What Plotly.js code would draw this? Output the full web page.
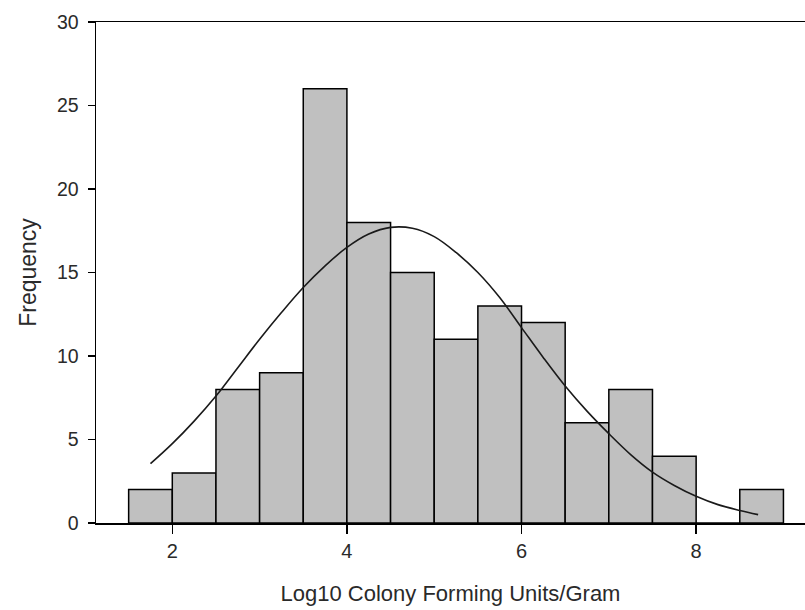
<!DOCTYPE html>
<html>
<head>
<meta charset="utf-8">
<script src="https://cdn.plot.ly/plotly-3.0.1.min.js"></script>
<style>
  html, body { margin: 0; padding: 0; background: #ffffff; }
  #chart { width: 805px; height: 610px; }
</style>
</head>
<body>
<div id="chart"></div>
<script>
// Histogram bins (centre of each 0.5-wide bin) and their counts
const binCenters = [1.75, 2.25, 2.75, 3.25, 3.75, 4.25, 4.75, 5.25, 5.75, 6.25, 6.75, 7.25, 7.75, 8.25, 8.75];
const counts     = [2, 3, 8, 9, 26, 18, 15, 11, 13, 12, 6, 8, 4, 0, 2];

// Fitted normal curve, sampled every 0.25 along the x axis
const curveX = [1.75, 2.0, 2.25, 2.5, 2.75, 3.0, 3.25, 3.5, 3.75, 4.0, 4.25, 4.5, 4.75, 5.0, 5.25, 5.5, 5.75, 6.0, 6.25, 6.5, 6.75, 7.0, 7.25, 7.5, 7.75, 8.0, 8.25, 8.5, 8.71];
const curveY = [3.55, 4.75, 6.1, 7.6, 9.3, 11.0, 12.6, 14.1, 15.4, 16.5, 17.3, 17.7, 17.65, 17.15, 16.2, 15.0, 13.5, 11.7, 9.9, 8.2, 6.7, 5.35, 4.1, 3.05, 2.25, 1.6, 1.1, 0.75, 0.5];

const yTicks = [0, 5, 10, 15, 20, 25, 30];
const xTicks = [2, 4, 6, 8];

const fontFamily = 'Arial, "Liberation Sans", sans-serif';
const textColor = '#2a2a2a';

const bars = {
  type: 'bar',
  x: binCenters,
  y: counts,
  width: 0.5,
  marker: { color: '#c0c0c0', line: { color: '#000000', width: 1.5 } },
  hoverinfo: 'x+y'
};

const curve = {
  type: 'scatter',
  mode: 'lines',
  x: curveX,
  y: curveY,
  line: { color: '#1a1a1a', width: 1.6, shape: 'spline', smoothing: 1 },
  hoverinfo: 'skip'
};

const layout = {
  width: 805,
  height: 610,
  margin: { l: 96, r: 0, t: 22, b: 87, pad: 0 },
  paper_bgcolor: '#ffffff',
  plot_bgcolor: '#ffffff',
  showlegend: false,
  bargap: 0,
  font: { family: fontFamily, color: textColor },
  xaxis: {
    range: [1.126, 9.247],
    tickvals: xTicks,
    ticktext: xTicks.map(String),
    ticks: 'outside',
    ticklen: 9,
    tickwidth: 1.5,
    tickcolor: '#000000',
    ticklabelstandoff: 0,
    showgrid: false,
    zeroline: false,
    showline: true,
    mirror: true,
    linecolor: '#000000',
    linewidth: 1.5,
    tickfont: { size: 20, color: textColor, family: fontFamily },
    title: { text: 'Log10 Colony Forming Units/Gram', font: { size: 22, color: textColor, family: fontFamily }, standoff: 25 }
  },
  yaxis: {
    range: [0, 30],
    tickvals: yTicks,
    ticktext: yTicks.map(String),
    ticks: 'outside',
    ticklen: 7,
    tickwidth: 1.5,
    tickcolor: '#000000',
    ticklabelstandoff: 5,
    showgrid: false,
    zeroline: false,
    showline: true,
    linecolor: '#000000',
    linewidth: 1.5,
    tickfont: { size: 19.5, color: textColor, family: fontFamily },
    title: { text: 'Frequency', font: { size: 23, color: textColor, family: fontFamily }, standoff: 14 }
  }
};

Plotly.newPlot('chart', [bars, curve], layout, { displayModeBar: false, staticPlot: true });
</script>
</body>
</html>
